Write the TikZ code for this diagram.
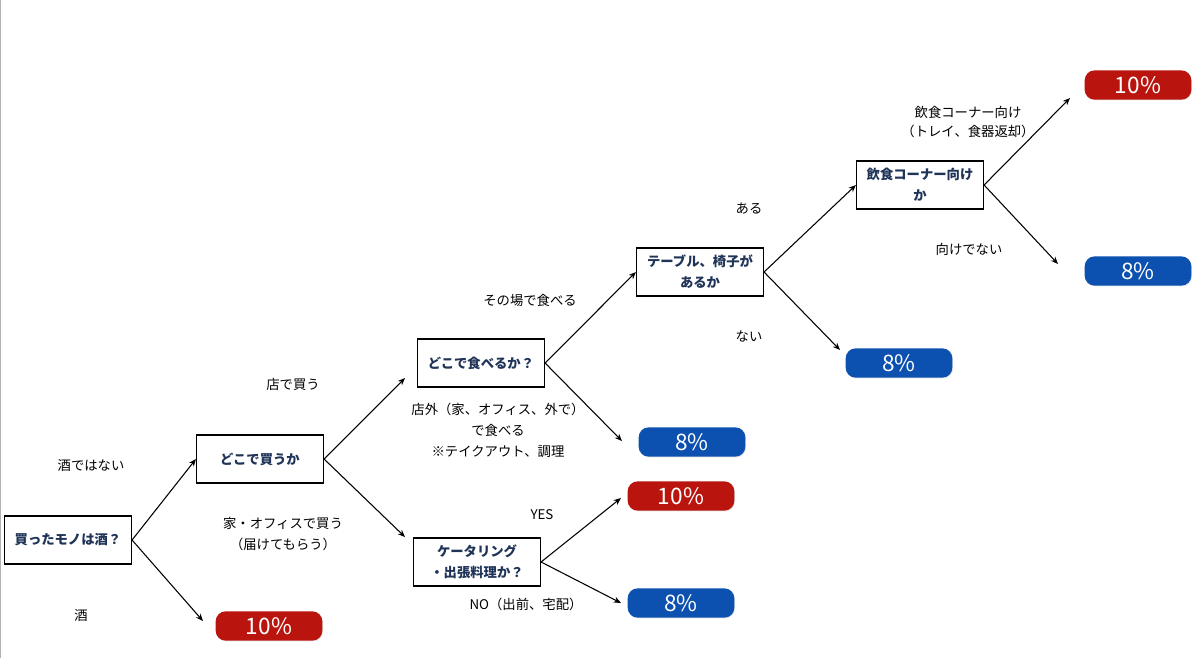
\documentclass[tikz,border=0pt]{standalone}
\usepackage{fontspec}
\setmainfont{Noto Sans CJK JP}
\usetikzlibrary{arrows.meta, shadows}
\definecolor{taxred}{RGB}{186,20,14}
\definecolor{taxblue}{RGB}{12,80,176}
\definecolor{asknavy}{RGB}{32,52,88}

\begin{document}
\begin{tikzpicture}[x=0.75pt, y=-0.75pt,
  ask/.style={draw, line width=1.1pt, fill=white, text=asknavy, align=center,
    font=\bfseries\fontsize{10}{15.75}\selectfont, minimum width=95pt, minimum height=36pt,
    drop shadow={opacity=0.25, shadow xshift=0.8pt, shadow yshift=-0.8pt}},
  rate/.style={rounded corners=7.5pt, text=white, minimum width=80pt, minimum height=22pt,
    inner sep=0pt, font=\fontsize{17}{18}\selectfont,
    drop shadow={opacity=0.2, shadow xshift=0.6pt, shadow yshift=-0.6pt}},
  lbl/.style={font=\fontsize{10}{15.5}\selectfont, align=center},
  arr/.style={-{Stealth[length=5.5pt, width=4.5pt]}, line width=0.8pt}]
 \useasboundingbox (0,0) rectangle (1200,658);
 \draw[gray!60, line width=1.2pt] (0.6,0) -- (0.6,658);

 \node[ask] (sake) at (68,540) {買ったモノは酒？};
 \node[ask] (buy) at (260,459) {どこで買うか};
 \node[ask] (eat) at (481,363) {どこで食べるか？};
 \node[ask] (cater) at (477,562) {ケータリング\\・出張料理か？};
 \node[ask] (table) at (700,272) {テーブル、椅子が\\あるか};
 \node[ask] (corner) at (920,185) {飲食コーナー向け\\か};

 \foreach \n/\x/\y/\c/\t in {r1/269/626/taxred/10\%, r2/692/442/taxblue/8\%,
   r3/681/496/taxred/10\%, r4/681/603/taxblue/8\%, r5/899/363/taxblue/8\%,
   r6/1138/85/taxred/10\%, r7/1138/271/taxblue/8\%}{
   \node[rate, fill=\c] (\n) at (\x,\y) {\t};
 }

 \coordinate (e1) at (203,621);
 \coordinate (e2) at (405,378);
 \coordinate (e3) at (405,537);
 \coordinate (e4) at (622,441);
 \coordinate (e5) at (621,498);
 \coordinate (e6) at (621,603);
 \coordinate (e7) at (840,350);
 \coordinate (e8) at (1070,98);
 \coordinate (e9) at (1058,264);

 \draw[arr] (sake.east) -- (buy.west);
 \draw[arr] (sake.east) -- (e1);
 \draw[arr] (buy.east) -- (e2);
 \draw[arr] (buy.east) -- (e3);
 \draw[arr] (eat.east) -- (table.west);
 \draw[arr] (eat.east) -- (e4);
 \draw[arr] (cater.east) -- (e5);
 \draw[arr] (cater.east) -- (e6);
 \draw[arr] (table.east) -- (corner.west);
 \draw[arr] (table.east) -- (e7);
 \draw[arr] (corner.east) -- (e8);
 \draw[arr] (corner.east) -- (e9);

 \node[lbl] (l1) at (91,466) {酒ではない};
 \node[lbl] (l2) at (81,616) {酒};
 \node[lbl] (l3) at (293,384) {店で買う};
 \node[lbl] (l4) at (283,534) {家・オフィスで買う\\（届けてもらう）};
 \node[lbl] (l5) at (530,300) {その場で食べる};
 \node[lbl, font=\fontsize{10}{15.75}\selectfont] (l6) at (498,430) {店外（家、オフィス、外で）\\で食べる\\※テイクアウト、調理};
 \node[lbl] (l7) at (542,515) {YES};
 \node[lbl] (l8) at (526,604) {NO（出前、宅配）};
 \node[lbl] (l9) at (749,209) {ある};
 \node[lbl] (l10) at (749,336) {ない};
 \node[lbl, font=\fontsize{10}{14.25}\selectfont] (l11) at (968,122) {飲食コーナー向け\\（トレイ、食器返却）};
 \node[lbl] (l12) at (969,249) {向けでない};
\end{tikzpicture}
\end{document}
